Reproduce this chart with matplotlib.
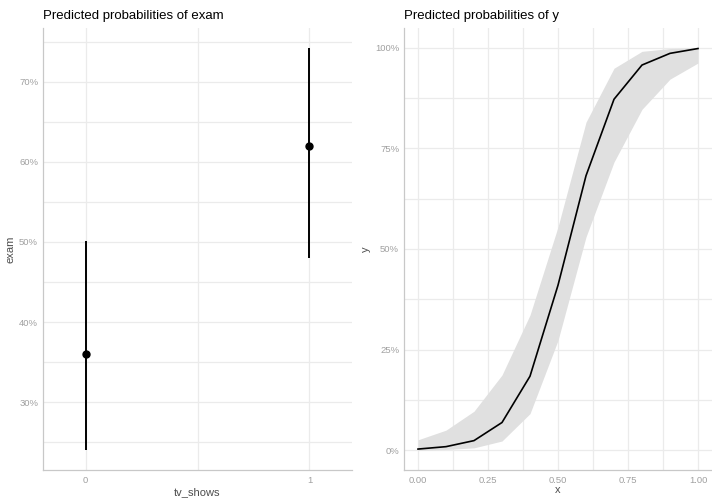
import matplotlib.pyplot as plt
import numpy as np
from matplotlib.ticker import FuncFormatter, MultipleLocator

plt.rcParams['font.family'] = ['Liberation Sans', 'DejaVu Sans']

# left panel: predicted exam probability by tv_shows
tv_levels = [0, 1]
tv_labels = ["0", "1"]
exam_pred = [0.360, 0.620]
exam_low = [0.240, 0.480]
exam_high = [0.501, 0.743]

# right panel: predicted y over x with confidence ribbon
x_vals = [0.0, 0.1, 0.2, 0.3, 0.4, 0.5, 0.6, 0.7, 0.8, 0.9, 1.0]
y_pred = [0.003, 0.009, 0.024, 0.069, 0.184, 0.410, 0.682, 0.872, 0.957, 0.986, 0.998]
y_low = [0.000, 0.002, 0.006, 0.023, 0.091, 0.273, 0.530, 0.716, 0.847, 0.922, 0.962]
y_high = [0.026, 0.050, 0.097, 0.187, 0.336, 0.555, 0.815, 0.949, 0.991, 0.998, 1.000]

W, H = 712, 498
fig = plt.figure(figsize=(W / 100, H / 100), dpi=100)

grid_col = "#ebebeb"
spine_col = "#c8c8c8"
tick_col = "#a0a0a0"
label_col = "#4d4d4d"

pct = FuncFormatter(lambda v, p: "{:.0f}%".format(v * 100))


def style(ax):
    for s in ["top", "right"]:
        ax.spines[s].set_visible(False)
    for s in ["left", "bottom"]:
        ax.spines[s].set_color(spine_col)
        ax.spines[s].set_linewidth(0.9)
    ax.set_axisbelow(True)
    ax.grid(True, which="both", color=grid_col, linewidth=0.9)
    ax.tick_params(which="both", length=0, colors=tick_col, labelsize=6.8)
    ax.tick_params(axis="y", pad=3.5)
    ax.tick_params(axis="x", pad=4)


ax1 = fig.add_axes([43 / W, 28 / H, 309 / W, 442 / H])
style(ax1)
yerr = [np.array(exam_pred) - np.array(exam_low), np.array(exam_high) - np.array(exam_pred)]
ax1.errorbar(tv_levels, exam_pred, yerr=yerr, fmt="o", color="black",
             markersize=5, elinewidth=1.4, capsize=0)
ax1.set_xlim(-0.19, 1.19)
ax1.set_ylim(0.215, 0.7675)
ax1.set_xticks(tv_levels)
ax1.set_xticklabels(tv_labels)
ax1.xaxis.set_minor_locator(MultipleLocator(0.5))
ax1.yaxis.set_major_locator(MultipleLocator(0.10))
ax1.yaxis.set_minor_locator(MultipleLocator(0.05))
ax1.yaxis.set_major_formatter(pct)
ax1.set_xlabel("tv_shows", fontsize=8, color=label_col, labelpad=2)
ax1.set_ylabel("exam", fontsize=8, color=label_col, labelpad=2.5)
ax1.set_title("Predicted probabilities of exam", loc="left", fontsize=9.5, pad=6.5)

ax2 = fig.add_axes([404 / W, 28 / H, 308 / W, 442 / H])
style(ax2)
ax2.fill_between(x_vals, y_low, y_high, color="#e0e0e0", linewidth=0)
ax2.plot(x_vals, y_pred, color="black", linewidth=1.2)
ax2.set_xlim(-0.05, 1.05)
ax2.set_ylim(-0.049, 1.049)
ax2.xaxis.set_major_locator(MultipleLocator(0.25))
ax2.xaxis.set_minor_locator(MultipleLocator(0.125))
ax2.xaxis.set_major_formatter(FuncFormatter(lambda v, p: "{:.2f}".format(v)))
ax2.yaxis.set_major_locator(MultipleLocator(0.25))
ax2.yaxis.set_minor_locator(MultipleLocator(0.125))
ax2.yaxis.set_major_formatter(pct)
ax2.set_xlabel("x", fontsize=8, color=label_col, labelpad=0)
ax2.set_ylabel("y", fontsize=8, color=label_col, labelpad=2.5)
ax2.set_title("Predicted probabilities of y", loc="left", fontsize=9.5, pad=6.5)

fig.savefig("out.png", dpi=100)
